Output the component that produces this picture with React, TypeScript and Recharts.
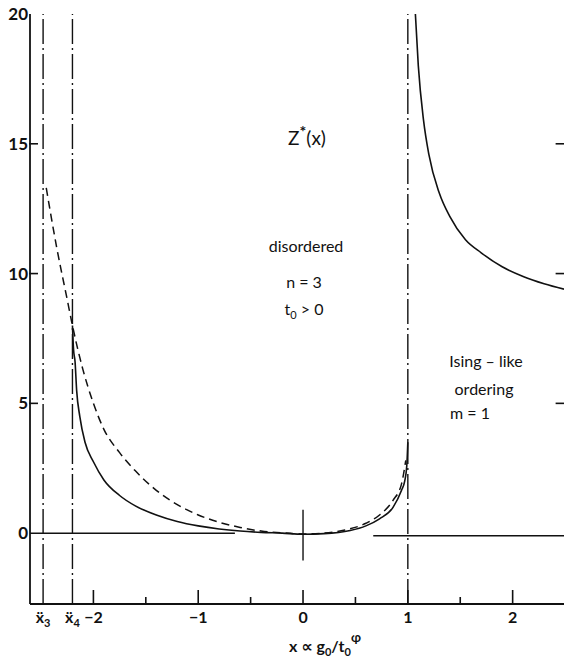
import { ComposedChart, Line, XAxis, YAxis, ReferenceLine } from 'recharts'

// axis ranges
const X_DOMAIN = [-2.605, 2.49]
const Y_DOMAIN = [-2.73, 20]

// special points on the x axis
const X3 = -2.48
const X4 = -2.2
const X_CRIT = 1.0

const X_TICKS = [X3, X4, -2, -1.5, -1, -0.5, 0, 0.5, 1, 1.5, 2]
const X_TICK_LABELS = ['x3', 'x4', '−2', '', '−1', '', '0', '', '1', '', '2']
const X_MAJOR = [-2, -1, 0, 1, 2]
const TOP_TICKS = [-2, -1.5, -1, -0.5, 0, 0.5, 1, 1.5, 2]
const Y_TICKS = [0, 5, 10, 15, 20]
const Y_TICK_LABELS = ['0', '5', '10', '15', '20']
const RIGHT_TICKS = [5, 10, 15]

// Z*(x), full curve (solid)
const solidLeft = [
  { x: -2.2, z: 8.0 }, { x: -2.19, z: 7.1 }, { x: -2.175, z: 6.6 },
  { x: -2.16, z: 5.5 }, { x: -2.13, z: 4.5 }, { x: -2.08, z: 3.5 },
  { x: -2.0, z: 2.75 }, { x: -1.9, z: 2.05 }, { x: -1.75, z: 1.45 },
  { x: -1.6, z: 1.05 }, { x: -1.4, z: 0.7 }, { x: -1.2, z: 0.45 },
  { x: -1.0, z: 0.28 }, { x: -0.8, z: 0.16 }, { x: -0.6, z: 0.08 },
  { x: -0.4, z: 0.03 }, { x: -0.2, z: 0.0 }, { x: 0, z: -0.04 },
  { x: 0.2, z: -0.02 }, { x: 0.45, z: 0.1 }, { x: 0.6, z: 0.28 },
  { x: 0.73, z: 0.55 }, { x: 0.86, z: 1.0 }, { x: 0.94, z: 1.65 },
  { x: 0.97, z: 2.0 }, { x: 0.99, z: 2.6 }, { x: 1.0, z: 3.5 },
]

const solidRight = [
  { x: 1.072, z: 20 }, { x: 1.1, z: 18.0 }, { x: 1.15, z: 15.9 },
  { x: 1.2, z: 14.6 }, { x: 1.3, z: 13.1 }, { x: 1.4, z: 12.2 },
  { x: 1.55, z: 11.3 }, { x: 1.7, z: 10.8 }, { x: 1.9, z: 10.26 },
  { x: 2.1, z: 9.89 }, { x: 2.3, z: 9.61 }, { x: 2.49, z: 9.4 },
]

// approximation (dashed)
const dashed = [
  { x: -2.45, z: 13.3 }, { x: -2.35, z: 11.0 }, { x: -2.25, z: 9.0 },
  { x: -2.2, z: 8.0 }, { x: -2.1, z: 6.3 }, { x: -2.0, z: 5.0 },
  { x: -1.9, z: 4.0 }, { x: -1.75, z: 3.1 }, { x: -1.6, z: 2.4 },
  { x: -1.4, z: 1.65 }, { x: -1.2, z: 1.1 }, { x: -1.0, z: 0.7 },
  { x: -0.8, z: 0.42 }, { x: -0.6, z: 0.22 }, { x: -0.4, z: 0.08 },
  { x: -0.2, z: 0.01 }, { x: 0, z: -0.03 }, { x: 0.2, z: 0.0 },
  { x: 0.4, z: 0.12 }, { x: 0.6, z: 0.38 }, { x: 0.73, z: 0.7 },
  { x: 0.86, z: 1.27 }, { x: 0.94, z: 1.9 }, { x: 0.98, z: 2.8 },
]

// trivial fixed point lines
const zeroLeft = [{ x: -2.605, z: 0 }, { x: -0.65, z: 0 }]
const zeroRight = [{ x: 0.67, z: -0.1 }, { x: 2.49, z: -0.1 }]
const zeroMark = [{ x: 0, y: 0.9 }, { x: 0, y: -1.05 }]

const FONT = 'Lato, "DejaVu Sans", sans-serif'
const INK = '#111'

const BottomTick = (props: any) => {
  const { x, y, payload } = props
  const v = payload.value
  const i = X_TICKS.indexOf(v)
  const label = X_TICK_LABELS[i]
  const len = X_MAJOR.includes(v) ? 14 : label === '' ? 7 : 0
  let text: any = label
  if (label === 'x3' || label === 'x4') {
    text = (
      <>
        {'ẍ'}
        <tspan dy={4} fontSize={11}>{label[1]}</tspan>
      </>
    )
  }
  return (
    <g>
      {len > 0 && <line x1={x} x2={x} y1={y} y2={y - len} stroke={INK} strokeWidth={1.6} />}
      <text x={x} y={y + 19} textAnchor='middle' fontSize={16} fontWeight={700} fontFamily={FONT} fill={INK}>
        {text}
      </text>
    </g>
  )
}

const TopTick = (props: any) => {
  const { x, y, payload } = props
  const len = X_MAJOR.includes(payload.value) ? 15 : 9
  return <line x1={x} x2={x} y1={y} y2={y + len} stroke={INK} strokeWidth={1.6} />
}

const LeftTick = (props: any) => {
  const { x, y, payload } = props
  const i = Y_TICKS.indexOf(payload.value)
  const showLine = payload.value > 0 && payload.value < 20
  return (
    <g>
      {showLine && <line x1={x - 1} x2={x + 8} y1={y} y2={y} stroke={INK} strokeWidth={1.6} />}
      <text x={x - 2} y={y + 6} textAnchor='end' fontSize={17} fontWeight={700} fontFamily={FONT} fill={INK}>
        {Y_TICK_LABELS[i]}
      </text>
    </g>
  )
}

const App = () => {
  return (
    <div style={{ position: 'absolute', left: 0, top: 0, width: 564, height: 660, background: '#fff' }}>
      <ComposedChart width={564} height={660} margin={{ top: 14, right: 0, bottom: 0, left: 0 }}>
        <XAxis
          xAxisId={0}
          type='number'
          dataKey='x'
          domain={X_DOMAIN}
          allowDataOverflow
          ticks={X_TICKS}
          interval={0}
          tick={<BottomTick />}
          tickLine={false}
          tickSize={0}
          tickMargin={0}
          height={56}
          axisLine={{ stroke: INK, strokeWidth: 1.8 }}
        />
        <XAxis
          xAxisId='top'
          orientation='top'
          type='number'
          domain={X_DOMAIN}
          allowDataOverflow
          ticks={TOP_TICKS}
          interval={0}
          tick={<TopTick />}
          tickLine={false}
          tickSize={0}
          tickMargin={0}
          height={0}
          axisLine={{ stroke: INK, strokeWidth: 1.8 }}
        />
        <YAxis
          type='number'
          domain={Y_DOMAIN}
          allowDataOverflow
          ticks={Y_TICKS}
          interval={0}
          tick={<LeftTick />}
          tickLine={false}
          tickSize={0}
          tickMargin={0}
          width={30}
          axisLine={{ stroke: INK, strokeWidth: 1.8 }}
        />

        <ReferenceLine x={X3} stroke={INK} strokeWidth={1.4} strokeDasharray='25 4 2 4' />
        <ReferenceLine x={X4} stroke={INK} strokeWidth={1.4} strokeDasharray='25 4 2 4' />
        <ReferenceLine x={X_CRIT} stroke={INK} strokeWidth={1.4} strokeDasharray='25 4 2 4' />
        <ReferenceLine segment={zeroMark} stroke={INK} strokeWidth={1.4} />
        {RIGHT_TICKS.map((t) => (
          <ReferenceLine key={t} segment={[{ x: 2.41, y: t }, { x: 2.49, y: t }]} stroke={INK} strokeWidth={1.6} />
        ))}

        <Line data={zeroLeft} dataKey='z' type='linear' dot={false} stroke={INK} strokeWidth={1.5} isAnimationActive={false} />
        <Line data={zeroRight} dataKey='z' type='linear' dot={false} stroke={INK} strokeWidth={1.5} isAnimationActive={false} />
        <Line data={dashed} dataKey='z' type='monotone' dot={false} stroke={INK} strokeWidth={1.5} strokeDasharray='8 5' isAnimationActive={false} />
        <Line data={solidLeft} dataKey='z' type='monotone' dot={false} stroke={INK} strokeWidth={1.6} isAnimationActive={false} />
        <Line data={solidRight} dataKey='z' type='monotone' dot={false} stroke={INK} strokeWidth={1.6} isAnimationActive={false} />
      </ComposedChart>

      <svg width={564} height={660} style={{ position: 'absolute', left: 0, top: 0, pointerEvents: 'none' }} fontFamily={FONT} fill={INK}>
        <text x={307} y={145} textAnchor='middle' fontSize={19}>
          Z<tspan dy={-8} fontSize={16} fontWeight={700}>*</tspan>
          <tspan dy={8}>(x)</tspan>
        </text>
        <text x={306} y={252} textAnchor='middle' fontSize={16}>disordered</text>
        <text x={304} y={288} textAnchor='middle' fontSize={16}>n = 3</text>
        <text x={304} y={315} textAnchor='middle' fontSize={16}>
          t<tspan dy={4} fontSize={11}>0</tspan>
          <tspan dy={-4}> &gt; 0</tspan>
        </text>
        <text x={486} y={367} textAnchor='middle' fontSize={16}>Ising – like</text>
        <text x={484} y={395} textAnchor='middle' fontSize={16}>ordering</text>
        <text x={470} y={419} textAnchor='middle' fontSize={16}>m = 1</text>
        <text x={325} y={652} textAnchor='middle' fontSize={16} fontWeight={700}>
          x ∝ g<tspan dy={4} fontSize={11}>0</tspan>
          <tspan dy={-4}>/t</tspan>
          <tspan dy={4} fontSize={11}>0</tspan>
          <tspan dy={-14} fontSize={13}>φ</tspan>
        </text>
      </svg>
    </div>
  )
}

export default App
